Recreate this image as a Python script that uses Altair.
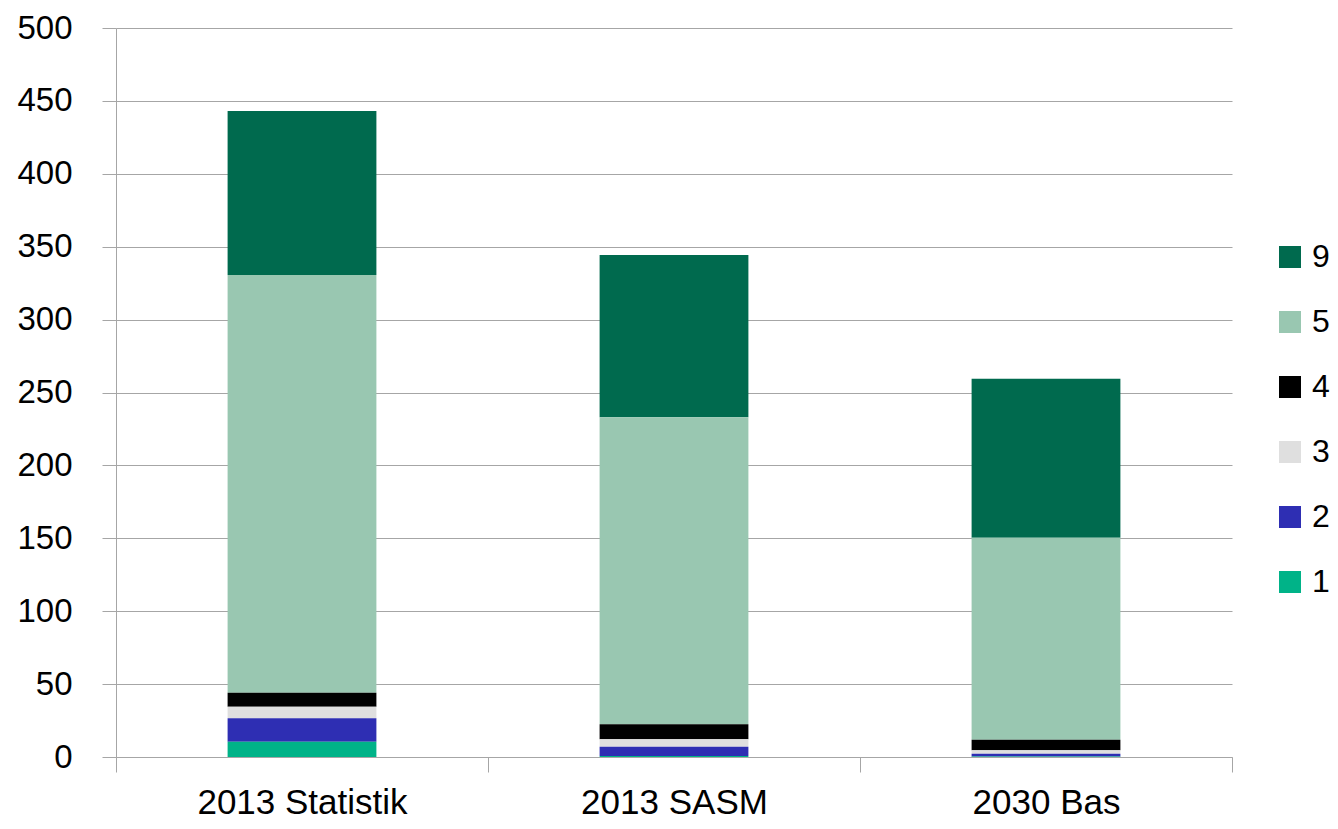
import altair as alt
import pandas as pd

categories = ["2013 Statistik", "2013 SASM", "2030 Bas"]
series = ["9", "5", "4", "3", "2", "1"]
colors = ["#006A4E", "#99C7B1", "#000000", "#DFDFDF", "#2E2EB3", "#00B388"]
stack_order = [6, 5, 4, 3, 2, 1]

s1 = [10.5, 0.7, 0.3]
s2 = [16.0, 6.4, 2.0]
s3 = [8.0, 5.0, 2.3]
s4 = [9.6, 10.3, 7.3]
s5 = [286.5, 210.6, 138.5]
s9 = [112.5, 111.3, 109.0]

values = {"1": s1, "2": s2, "3": s3, "4": s4, "5": s5, "9": s9}
rows = []
for s, o in zip(series, stack_order):
    for c, v in zip(categories, values[s]):
        rows.append({"cat": c, "series": s, "value": v, "ord": o})
df = pd.DataFrame(rows)

font = "Liberation Sans"

chart = alt.Chart(df).mark_bar(width=alt.RelativeBandSize(0.4)).encode(
    x=alt.X("cat:N", sort=categories, title=None,
            scale=alt.Scale(paddingInner=0, paddingOuter=0),
            axis=alt.Axis(labelAngle=0, labelFontSize=35, labelFont=font, labelColor="#000000",
                          labelLimit=0, labelBaseline="alphabetic",
                          tickBand="extent", tickSize=15, tickColor="#A6A6A6",
                          domainColor="#A6A6A6", labelPadding=41)),
    y=alt.Y("value:Q", stack="zero", title=None,
            scale=alt.Scale(domain=[0, 500], nice=False),
            axis=alt.Axis(values=list(range(0, 501, 50)), labelFontSize=33, labelFont=font,
                          labelColor="#000000", tickSize=14, tickColor="#A6A6A6",
                          domainColor="#A6A6A6", gridColor="#A6A6A6", labelPadding=30)),
    color=alt.Color("series:N", scale=alt.Scale(domain=series, range=colors),
                    legend=alt.Legend(title=None, orient="none", legendX=1158, legendY=213,
                                      symbolType="square", symbolSize=484, symbolStrokeWidth=0,
                                      labelFontSize=32, labelFont=font, labelColor="#000000",
                                      labelOffset=6, rowPadding=33, padding=0)),
    order=alt.Order("ord:Q", sort="ascending"),
).properties(
    width=1116, height=729,
    autosize=alt.AutoSizeParams(type="none"),
    padding={"left": 108, "top": 20, "right": 98, "bottom": 64},
).configure_view(stroke=None).configure_axis(grid=False).configure_axisY(grid=True)

chart.save("out.html", embed_options={"renderer": "svg", "actions": False})
